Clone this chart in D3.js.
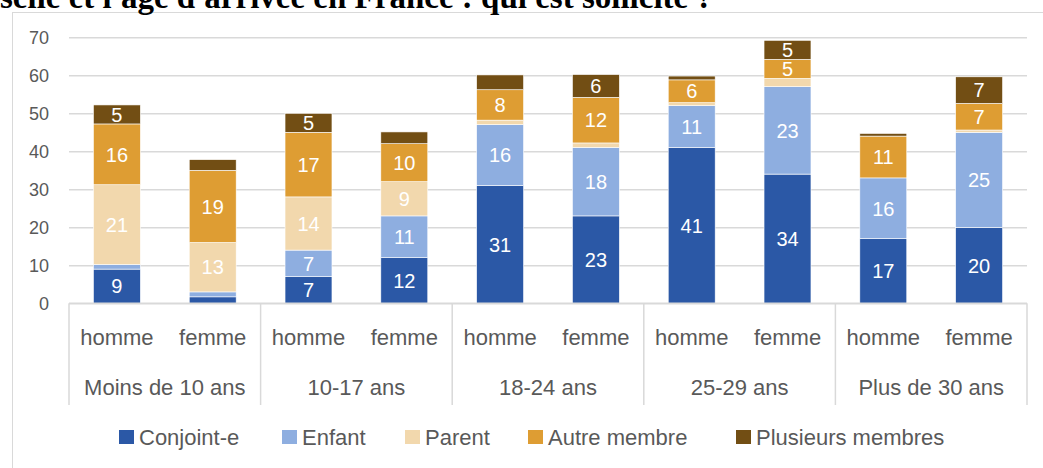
<!DOCTYPE html>
<html lang="fr">
<head>
<meta charset="utf-8">
<script src="https://cdn.jsdelivr.net/npm/d3@7/dist/d3.min.js"></script>
<style>
  html, body { margin: 0; padding: 0; background: #fff; }
  svg { display: block; }
</style>
</head>
<body>
<svg id="chart" width="1043" height="468"></svg>
<script>
// Age group at arrival, and sex within each group
const groups = ["Moins de 10 ans", "10-17 ans", "18-24 ans", "25-29 ans", "Plus de 30 ans"];
const sexes = ["homme", "femme"];

// Series, one value per bar (homme, femme for each age group in order)
const seriesNames = ["Conjoint-e", "Enfant", "Parent", "Autre membre", "Plusieurs membres"];
const conjoint  = [9, 1.7, 7, 12, 31, 23, 41, 34, 17, 20];
const enfant    = [1.2, 1.3, 7, 11, 16, 18, 11, 23, 16, 25];
const parent    = [21, 13, 14, 9, 1.2, 1.2, 0.8, 2.2, 0, 0.6];
const autre     = [16, 19, 17, 10, 8, 12, 6, 5, 11, 7];
const plusieurs = [5, 2.8, 5, 3.1, 3.9, 6, 1, 5, 0.7, 7];

const yTicks = [0, 10, 20, 30, 40, 50, 60, 70];
const colors = ["#2B58A6", "#8EAEE0", "#F2D8AD", "#DE9D33", "#724E14"];

const titleText = "selle et l'âge d'arrivée en France : qui est sollicité ?";

// Table built from the arrays above
const seriesValues = [conjoint, enfant, parent, autre, plusieurs];
const rows = [];
groups.forEach((g, gi) => {
  sexes.forEach((s, si) => {
    const i = gi * sexes.length + si;
    const row = { key: g + "|" + s, group: g, sex: s };
    seriesNames.forEach((n, k) => { row[n] = seriesValues[k][i]; });
    rows.push(row);
  });
});

const svg = d3.select("#chart");
const font = "'Liberation Sans', Arial, sans-serif";

// Frame of the chart
svg.append("rect")
  .attr("x", 12.5).attr("y", 12.5)
  .attr("width", 1100).attr("height", 500)
  .attr("fill", "#fff").attr("stroke", "#d9d9d9").attr("stroke-width", 1);

// Heading line running off the top edge, above the frame
svg.append("text")
  .attr("x", 0).attr("y", 8)
  .attr("font-family", "'Liberation Serif', 'Times New Roman', serif")
  .attr("font-weight", "bold")
  .attr("font-size", 33)
  .attr("fill", "#000")
  .text(titleText);

const plot = { left: 69, right: 1027, top: 37.3, bottom: 303.3 };

const y = d3.scaleLinear().domain([0, 70]).range([plot.bottom, plot.top]);
const x0 = d3.scaleBand().domain(groups).range([plot.left, plot.right]).padding(0);
const x1 = d3.scaleBand().domain(sexes).range([0, x0.bandwidth()])
  .paddingInner(0.51).paddingOuter(0.255);

// Gridlines and value axis
const yAxis = d3.axisLeft(y).tickValues(yTicks)
  .tickSize(-(plot.right - plot.left)).tickPadding(20);
const yg = svg.append("g")
  .attr("transform", `translate(${plot.left},0)`)
  .call(yAxis);
yg.select(".domain").remove();
yg.selectAll(".tick line").attr("stroke", "#d9d9d9").attr("stroke-width", 1.5);
yg.selectAll(".tick text")
  .attr("font-family", font).attr("font-size", 18).attr("fill", "#595959");

// Stacked bars
const stack = d3.stack().keys(seriesNames);
const layers = stack(rows);

const layerG = svg.append("g").selectAll("g")
  .data(layers)
  .join("g")
  .attr("fill", (d, i) => colors[i]);

layerG.selectAll("rect")
  .data(d => d)
  .join("rect")
  .attr("x", d => x0(d.data.group) + x1(d.data.sex))
  .attr("width", x1.bandwidth())
  .attr("y", d => y(d[1]))
  .attr("height", d => Math.max(0, y(d[0]) - y(d[1])))
  .attr("stroke", "#ffffff")
  .attr("stroke-width", 0.6);

// Value labels inside the larger segments
layerG.selectAll("text")
  .data(d => d.filter(p => (p[1] - p[0]) >= 4.5))
  .join("text")
  .attr("x", d => x0(d.data.group) + x1(d.data.sex) + x1.bandwidth() / 2)
  .attr("y", d => (y(d[0]) + y(d[1])) / 2)
  .attr("dy", "0.36em")
  .attr("text-anchor", "middle")
  .attr("font-family", font)
  .attr("font-size", 20)
  .attr("fill", "#ffffff")
  .text(d => d3.format(".0f")(d[1] - d[0]));

// Category axis: baseline, group dividers, two levels of labels
svg.append("line")
  .attr("x1", plot.left).attr("x2", plot.right)
  .attr("y1", plot.bottom).attr("y2", plot.bottom)
  .attr("stroke", "#d9d9d9").attr("stroke-width", 1.5);

const dividers = groups.map(g => x0(g)).concat([plot.right]);
svg.append("g").selectAll("line")
  .data(dividers)
  .join("line")
  .attr("x1", d => d).attr("x2", d => d)
  .attr("y1", plot.bottom).attr("y2", 405)
  .attr("stroke", "#d9d9d9").attr("stroke-width", 1.5);

svg.append("g").selectAll("text")
  .data(rows)
  .join("text")
  .attr("x", d => x0(d.group) + x1(d.sex) + x1.bandwidth() / 2)
  .attr("y", 345)
  .attr("text-anchor", "middle")
  .attr("font-family", font).attr("font-size", 22).attr("fill", "#595959")
  .text(d => d.sex);

svg.append("g").selectAll("text")
  .data(groups)
  .join("text")
  .attr("x", d => x0(d) + x0.bandwidth() / 2)
  .attr("y", 395)
  .attr("text-anchor", "middle")
  .attr("font-family", font).attr("font-size", 22).attr("fill", "#595959")
  .text(d => d);

// Legend
const legendX = [119, 282, 405, 528, 736];
const legend = svg.append("g").selectAll("g")
  .data(seriesNames)
  .join("g")
  .attr("transform", (d, i) => `translate(${legendX[i]},437)`);
legend.append("rect")
  .attr("x", 0).attr("y", -7).attr("width", 15).attr("height", 14)
  .attr("fill", (d, i) => colors[i]);
legend.append("text")
  .attr("x", 20).attr("y", 0).attr("dy", "0.36em")
  .attr("font-family", font).attr("font-size", 22).attr("fill", "#595959")
  .text(d => d);
</script>
</body>
</html>
